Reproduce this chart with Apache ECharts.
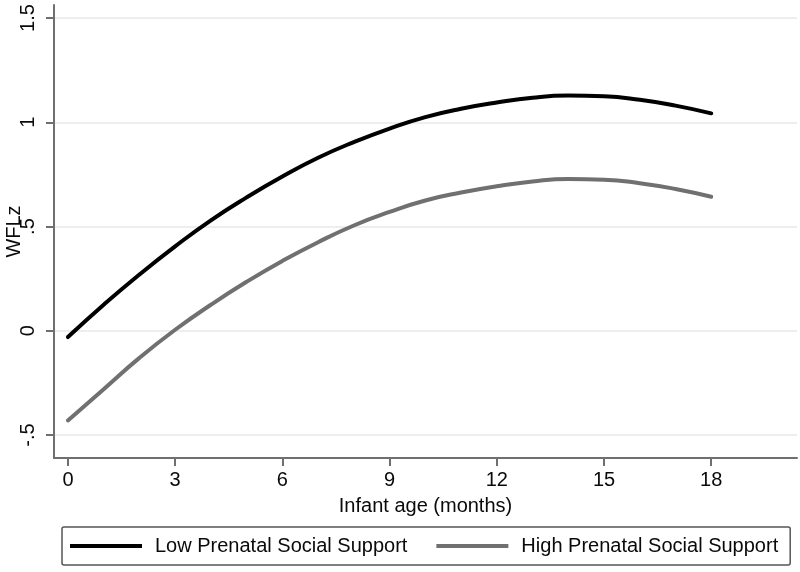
<!DOCTYPE html>
<html>
<head>
<meta charset="utf-8">
<script src="https://cdn.jsdelivr.net/npm/echarts@6/dist/echarts.min.js"></script>
<style>
html,body{margin:0;padding:0;background:#fff;}
#chart{width:800px;height:572px;}
</style>
</head>
<body>
<div id="chart"></div>
<script>
// Data
const months = [0,1,2,3,4,5,6,7,8,9,10,11,12,13,14,15,16,17,18];
const lowSupport  = [-0.03,0.125,0.27,0.405,0.53,0.64,0.74,0.83,0.905,0.97,1.025,1.065,1.095,1.118,1.128,1.125,1.108,1.08,1.043];
const highSupport = [-0.43,-0.28,-0.13,0.005,0.125,0.235,0.335,0.425,0.505,0.57,0.625,0.663,0.693,0.716,0.728,0.725,0.708,0.68,0.643];
const xTickValues = [0,3,6,9,12,15,18];
const yTickValues = [-0.5,0,0.5,1,1.5];
const yTickLabels = ['-.5','0','.5','1','1.5'];
const seriesNames = ['Low Prenatal Social Support','High Prenatal Social Support'];
const xTitle = 'Infant age (months)';
const yTitle = 'WFLz';

const FONT = '"Liberation Sans", Arial, Helvetica, sans-serif';
const axisColor = '#6f6f6f';

const chart = echarts.init(document.getElementById('chart'));
chart.setOption({
  animation: false,
  backgroundColor: '#fff',
  textStyle: {fontFamily: FONT},
  grid: {left: 54, right: 3, top: 5, bottom: 114, outerBoundsMode: 'none', containLabel: false},
  legend: {
    data: seriesNames,
    left: 62, top: 527,
    icon: 'rect',
    itemWidth: 72, itemHeight: 4,
    itemGap: 29,
    padding: [9, 12, 9, 8],
    borderColor: '#555',
    borderWidth: 1.5,
    borderRadius: 2,
    textStyle: {fontFamily: FONT, fontSize: 20, color: '#0a0a0a', padding: [0,0,0,8]}
  },
  xAxis: {
    type: 'value',
    min: -0.39, max: 20.4,
    name: xTitle,
    nameLocation: 'middle',
    nameGap: 38,
    nameTextStyle: {fontFamily: FONT, fontSize: 20, color: '#0a0a0a'},
    axisLine: {show: true, onZero: false, lineStyle: {color: axisColor, width: 2}},
    axisTick: {show: true, length: 8, customValues: xTickValues, lineStyle: {color: axisColor, width: 2}},
    axisLabel: {customValues: xTickValues, fontFamily: FONT, fontSize: 20, color: '#0a0a0a', margin: 12},
    splitLine: {show: false}
  },
  yAxis: {
    type: 'value',
    min: -0.61, max: 1.5625,
    name: yTitle,
    nameLocation: 'middle',
    nameRotate: 90,
    nameGap: 30,
    nameMoveOverlap: false,
    nameTextStyle: {fontFamily: FONT, fontSize: 20, color: '#0a0a0a'},
    axisLine: {show: true, onZero: false, lineStyle: {color: axisColor, width: 2}},
    axisTick: {show: true, length: 8, customValues: yTickValues, lineStyle: {color: axisColor, width: 2}},
    axisLabel: {
      customValues: yTickValues,
      rotate: 90,
      fontFamily: FONT, fontSize: 20, color: '#0a0a0a', margin: 16,
      formatter: function (v) {
        const i = yTickValues.findIndex(t => Math.abs(t - v) < 1e-9);
        return i >= 0 ? yTickLabels[i] : '';
      }
    },
    splitLine: {show: true, lineStyle: {color: '#e8e8e8', width: 1.5}}
  },
  series: [
    {
      name: seriesNames[0], type: 'line', smooth: true, showSymbol: false,
      data: months.map((m, i) => [m, lowSupport[i]]),
      itemStyle: {color: '#000'},
      lineStyle: {color: '#000', width: 4, cap: 'round'}
    },
    {
      name: seriesNames[1], type: 'line', smooth: true, showSymbol: false,
      data: months.map((m, i) => [m, highSupport[i]]),
      itemStyle: {color: '#707070'},
      lineStyle: {color: '#707070', width: 4, cap: 'round'}
    }
  ]
});
</script>
</body>
</html>
